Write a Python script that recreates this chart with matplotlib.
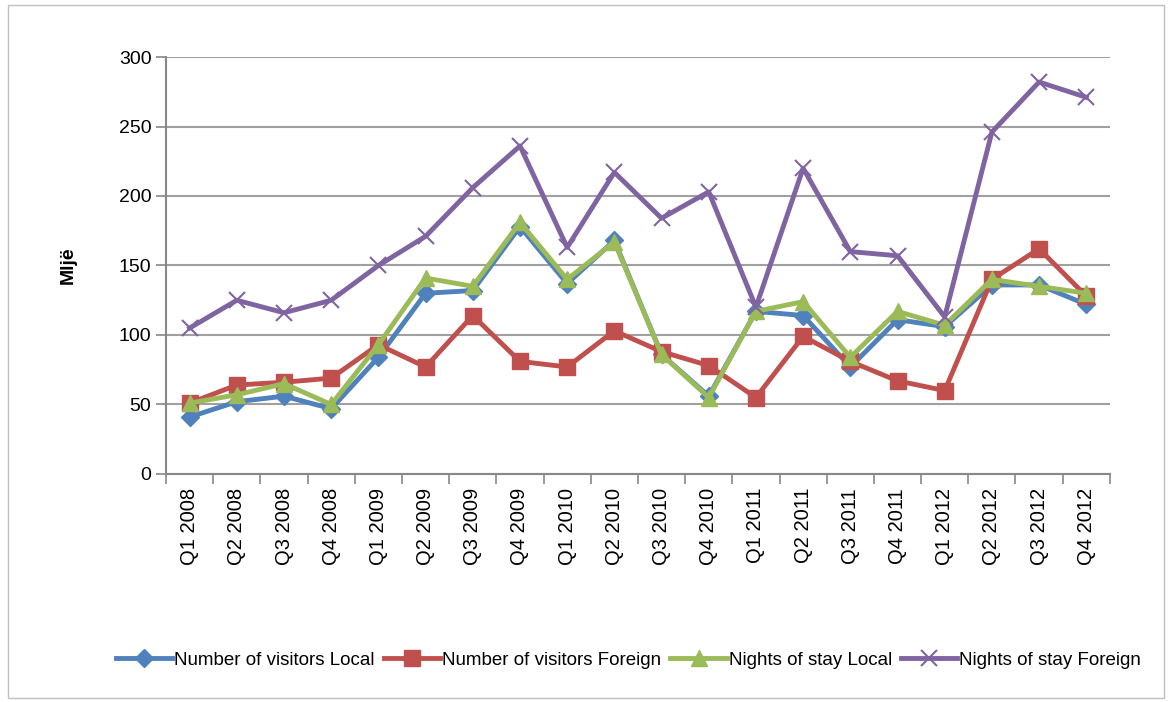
import matplotlib.pyplot as plt
from matplotlib.patches import Rectangle

plt.rcParams['font.family'] = ['Liberation Sans', 'DejaVu Sans']

# Quarter labels
quarters = ["Q1 2008", "Q2 2008", "Q3 2008", "Q4 2008",
            "Q1 2009", "Q2 2009", "Q3 2009", "Q4 2009",
            "Q1 2010", "Q2 2010", "Q3 2010", "Q4 2010",
            "Q1 2011", "Q2 2011", "Q3 2011", "Q4 2011",
            "Q1 2012", "Q2 2012", "Q3 2012", "Q4 2012"]

# Values in thousands (Mljë)
visitors_local = [41, 52, 56, 47, 84, 130, 132, 178, 137, 168,
                  86, 56, 117, 114, 77, 111, 106, 136, 136, 122]
visitors_foreign = [51, 64, 66, 69, 93, 77, 114, 81, 77, 103,
                    88, 78, 55, 99, 81, 67, 60, 140, 162, 128]
nights_local = [51, 57, 65, 50, 93, 141, 135, 181, 140, 167,
                86, 55, 117, 124, 84, 117, 107, 140, 135, 130]
nights_foreign = [105, 125, 116, 125, 150, 171, 206, 236, 163, 217,
                  184, 203, 120, 220, 160, 157, 113, 246, 282, 271]

fig = plt.figure(figsize=(11.71, 7.02), dpi=100)
ax = fig.add_axes([0.1418, 0.3248, 0.806, 0.594])

# light frame round the chart
fig.patches.append(Rectangle((0.007, 0.006), 0.987, 0.987, transform=fig.transFigure,
                             fill=False, edgecolor="#bfbfbf", linewidth=1))

x = list(range(len(quarters)))
ax.plot(x, visitors_local, c="#4F81BD", linewidth=3.5, marker="D",
        markersize=9, label="Number of visitors Local")
ax.plot(x, visitors_foreign, c="#C0504D", linewidth=3.5, marker="s",
        markersize=11, label="Number of visitors Foreign")
ax.plot(x, nights_local, c="#9BBB59", linewidth=3.5, marker="^",
        markersize=12, label="Nights of stay Local")
ax.plot(x, nights_foreign, c="#8064A2", linewidth=3.5, marker="x",
        markersize=12, markeredgewidth=1.5, label="Nights of stay Foreign")

# Axis Limits
ax.set_xlim(-0.5, len(quarters) - 0.5)
ax.set_ylim(0, 300)
ax.set_yticks(range(0, 301, 50))
ax.set_xticks(x)
ax.set_xticklabels(quarters, rotation=90, fontsize=14.5)
ax.set_xticks([i - 0.5 for i in range(len(quarters) + 1)], minor=True)
ax.tick_params(axis="x", which="major", length=0, pad=10)
ax.tick_params(axis="x", which="minor", length=7, color="#888888", width=1.2)
ax.tick_params(axis="y", length=7, color="#888888", width=1.2, labelsize=14)

ax.yaxis.grid(True, color="#a0a0a0", linewidth=1.5)
ax.set_axisbelow(True)
for s in ["top", "right"]:
    ax.spines[s].set_visible(False)
for s in ["left", "bottom"]:
    ax.spines[s].set_color("#888888")
    ax.spines[s].set_linewidth(1.5)

ax.set_ylabel("Mljë", fontsize=14, fontweight="bold", labelpad=30)

ax.legend(loc="center", bbox_to_anchor=(0.49, -0.446), ncol=4, frameon=False,
          fontsize=13.5, handlelength=3.0, columnspacing=0.5, handletextpad=0.1)

plt.savefig("out.png", dpi=100)
